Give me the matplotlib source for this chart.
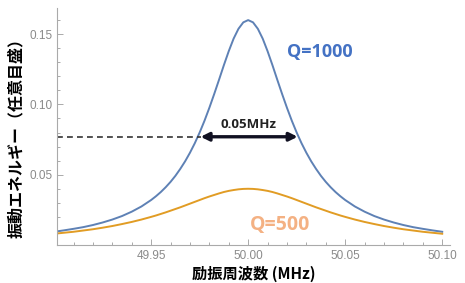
import matplotlib
matplotlib.use("Agg")
import matplotlib.pyplot as plt
from matplotlib.ticker import MultipleLocator, FixedLocator

# offsets from the 50.00 MHz centre (MHz), finer near the peak
offsets = [0.0, 0.0025, 0.005, 0.0075, 0.01, 0.0125, 0.015, 0.0175, 0.02, 0.0225, 0.025,
           0.0275, 0.03, 0.0325, 0.035, 0.0375, 0.04, 0.0425, 0.045, 0.0475, 0.05,
           0.055, 0.06, 0.065, 0.07, 0.075, 0.08, 0.085, 0.09, 0.095, 0.10]
# energies at those offsets (curves are symmetric)
q1000_half = [0.160, 0.1584, 0.1538, 0.1468, 0.1379, 0.128, 0.1176, 0.1074, 0.0976, 0.0884, 0.080,
              0.0724, 0.0656, 0.0595, 0.0541, 0.0492, 0.0449, 0.0411, 0.0377, 0.0347, 0.032,
              0.0274, 0.0237, 0.0206, 0.0181, 0.016, 0.0142, 0.0127, 0.0115, 0.0104, 0.0094]
q500_half = [0.040, 0.0399, 0.0396, 0.0391, 0.0385, 0.0377, 0.0367, 0.0356, 0.0345, 0.0333, 0.032,
             0.0307, 0.0294, 0.0281, 0.0268, 0.0256, 0.0244, 0.0232, 0.0221, 0.0210, 0.020,
             0.0181, 0.0164, 0.0149, 0.0135, 0.0123, 0.0112, 0.0103, 0.0094, 0.0087, 0.008]
center = 50.00
freq = [center - o for o in offsets[::-1]] + [center + o for o in offsets[1:]]
q1000 = q1000_half[::-1] + q1000_half[1:]
q500 = q500_half[::-1] + q500_half[1:]

x_ticks = [49.95, 50.00, 50.05, 50.10]
x_tick_labels = ["49.95", "50.00", "50.05", "50.10"]
y_ticks = [0.05, 0.10, 0.15]
y_tick_labels = ["0.05", "0.10", "0.15"]

half_level = 0.077
arrow_left, arrow_right = 49.9755, 50.0255

fig = plt.figure(figsize=(4.65, 2.83), dpi=100)
ax = fig.add_axes([0.1226, 0.1343, 0.8451, 0.8374])

ax.plot(freq, q1000, color="#5E81B5", lw=1.4)
ax.plot(freq, q500, color="#E19C24", lw=1.4)

ax.set_xlim(49.9015, 50.104)
ax.set_ylim(0, 0.1686)

for s in ["top", "right"]:
    ax.spines[s].set_visible(False)
for s in ["left", "bottom"]:
    ax.spines[s].set_color("#aaaaaa")
    ax.spines[s].set_linewidth(0.8)

ax.xaxis.set_major_locator(FixedLocator(x_ticks))
ax.set_xticklabels(x_tick_labels)
ax.yaxis.set_major_locator(FixedLocator(y_ticks))
ax.set_yticklabels(y_tick_labels)
ax.xaxis.set_minor_locator(MultipleLocator(0.01))
ax.yaxis.set_minor_locator(MultipleLocator(0.01))
ax.tick_params(which="both", direction="in", color="#aaaaaa", labelcolor="#8a8a8a",
               labelsize=8.5, width=0.7)
ax.tick_params(which="major", length=4)
ax.tick_params(which="minor", length=2.5)
for lab in ax.get_xticklabels() + ax.get_yticklabels():
    lab.set_family("Liberation Sans")

ax.plot([49.9015, arrow_left], [half_level, half_level], ls=(0, (3.5, 2.5)), color="#333333", lw=1.2)
ax.annotate("", xy=(arrow_left, half_level), xytext=(arrow_right, half_level),
            arrowprops=dict(arrowstyle="<|-|>", color="#111122", lw=2.4,
                            mutation_scale=12, shrinkA=0, shrinkB=0))
ax.text(50.0, half_level + 0.004, "0.05MHz", ha="center", va="bottom", fontsize=9.5,
        fontweight="bold", family="Open Sans", color="#222222")
ax.text(50.020, 0.137, "Q=1000", ha="left", va="center", fontsize=13,
        fontweight="bold", family="Open Sans", color="#4472C4")
ax.text(50.001, 0.0142, "Q=500", ha="left", va="center", fontsize=14,
        fontweight="bold", family="Open Sans", color="#F4B183")

ax.set_ylabel("振動エネルギー（任意目盛）", family=["Noto Sans CJK JP", "DejaVu Sans"],
              fontweight="bold", fontsize=11.5)
ax.yaxis.set_label_coords(-0.084, 0.47)
ax.set_xlabel("励振周波数 (MHz)", family=["Noto Sans CJK JP", "DejaVu Sans"],
              fontweight="bold", fontsize=11, va="bottom")
ax.xaxis.set_label_coords(0.5, -0.155)

fig.savefig("out.png", dpi=100)
